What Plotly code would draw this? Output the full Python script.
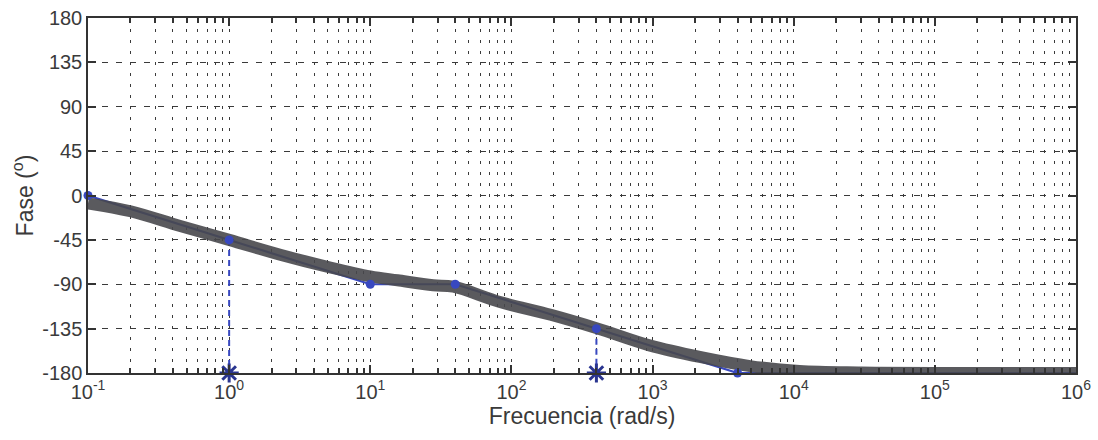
import plotly.graph_objects as go

# Real phase curve (gray, thick)
freq_real = [0.1, 0.2, 0.45, 1.0, 2.3, 5.2, 10, 15.6, 27.9, 38.7, 83, 190, 410, 950, 2200, 4900, 11000, 30000, 100000, 1000000]
phase_real = [-8, -16, -31, -45, -60, -73, -82, -86, -91, -92.5, -108, -121, -135, -152, -164, -173, -178, -179.5, -180, -180]

# Hand-drawn asymptotic approximation (blue)
freq_asym = [0.1, 1, 10, 40, 400, 4000, 1000000]
phase_asym = [0, -45, -90, -90, -135, -180, -180]
freq_dots = [0.1, 1, 10, 40, 400, 4000]
phase_dots = [0, -45, -90, -90, -135, -180]

# Corner frequencies marked with dashed drop lines and stars
freq_corner = [1, 400]
phase_corner_top = [-45, -135]
phase_floor = -180

x_tickvals = [0.1, 1, 10, 100, 1000, 10000, 100000, 1000000]
x_ticktext = ["10<sup>-1</sup>", "10<sup>0</sup>", "10<sup>1</sup>", "10<sup>2</sup>",
              "10<sup>3</sup>", "10<sup>4</sup>", "10<sup>5</sup>", "10<sup>6</sup>"]
y_tickvals = [-180, -135, -90, -45, 0, 45, 90, 135, 180]
y_ticktext = ["-180", "-135", "-90", "-45", "0", "45", "90", "135", "180"]

blue = "#3848c0"
star_col = "#2a3590"
fig = go.Figure()

# Blue asymptote line
fig.add_trace(go.Scatter(x=freq_asym, y=phase_asym, mode="lines",
                         line=dict(color=blue, width=2.2), showlegend=False))
# Dashed drops
for f, p in zip(freq_corner, phase_corner_top):
    fig.add_trace(go.Scatter(x=[f, f], y=[p, phase_floor], mode="lines",
                             line=dict(color=blue, width=2, dash="6px,4px"), showlegend=False))
# Gray real curve
fig.add_trace(go.Scatter(x=freq_real, y=phase_real, mode="lines", line_shape="spline",
                         line=dict(color="rgba(72,72,76,0.9)", width=12), showlegend=False))
# Dots
fig.add_trace(go.Scatter(x=freq_dots, y=phase_dots, mode="markers", cliponaxis=False,
                         marker=dict(color=blue, size=9), showlegend=False))
# Stars
fig.add_trace(go.Scatter(x=freq_corner, y=[phase_floor] * len(freq_corner), mode="markers", cliponaxis=False,
                         marker=dict(symbol="asterisk-open", size=16, color=star_col,
                                     line=dict(color=star_col, width=3)),
                         showlegend=False))

font_family = "Liberation Sans, Arial, sans-serif"
axis_col = "#333333"
grid_col = "#3a3a3a"
fig.update_layout(
    width=1098, height=440,
    margin=dict(l=88, r=22, t=18, b=67),
    paper_bgcolor="white", plot_bgcolor="white",
    font=dict(family=font_family, size=20, color="#3a3a3a"),
    xaxis=dict(
        type="log", range=[-1, 6], automargin=False,
        tickvals=x_tickvals, ticktext=x_ticktext,
        ticks="inside", ticklen=8, tickcolor=axis_col, tickwidth=1.5,
        showline=True, linecolor=axis_col, linewidth=1.5, mirror="ticks",
        showgrid=True, gridcolor=grid_col, gridwidth=1.3, griddash="3px,8px",
        minor=dict(dtick="D1", showgrid=True, gridcolor=grid_col, gridwidth=1.3, griddash="3px,8px",
                   ticks="inside", ticklen=5, tickcolor=axis_col),
        zeroline=False,
        title=dict(text="Frecuencia (rad/s)", font=dict(size=23), standoff=2),
        tickfont=dict(size=20),
    ),
    yaxis=dict(
        range=[-180, 180], automargin=False,
        tickvals=y_tickvals, ticktext=y_ticktext,
        ticks="inside", ticklen=8, tickcolor=axis_col, tickwidth=1.5,
        showline=True, linecolor=axis_col, linewidth=1.5, mirror="ticks",
        showgrid=True, gridcolor=grid_col, gridwidth=1.2, griddash="6px,8px",
        zeroline=False,
        title=dict(text="Fase (<sup>o</sup>)", font=dict(size=23), standoff=2),
        tickfont=dict(size=20),
    ),
)

fig.write_html("out.html", config={"displayModeBar": False},
               post_script="document.body.style.margin='0';document.body.style.overflow='hidden';")
